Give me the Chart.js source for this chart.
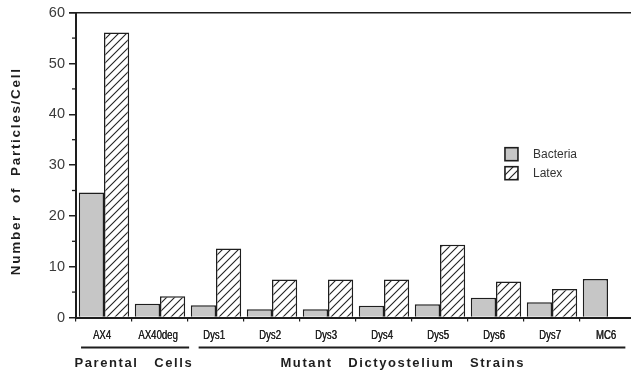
<!DOCTYPE html>
<html>
<head>
<meta charset="utf-8">
<script src="https://cdn.jsdelivr.net/npm/chart.js@4"></script>
<style>
  html, body { margin: 0; padding: 0; background: #fff; overflow: hidden; }
  #wrap { width: 641px; height: 375px; }
</style>
</head>
<body>
<div id="wrap"><canvas id="c" width="641" height="375"></canvas></div>
<script>
// Strain names along the x axis
const categories = ['AX4', 'AX40deg', 'Dys1', 'Dys2', 'Dys3', 'Dys4', 'Dys5', 'Dys6', 'Dys7', 'MC6'];
// Particles taken up per cell
const bacteria = [24.6, 2.7, 2.4, 1.6, 1.6, 2.3, 2.6, 3.9, 3.0, 7.6];
const latex    = [56.1, 4.2, 13.6, 7.5, 7.5, 7.5, 14.3, 7.1, 5.6, null];
// Y axis ticks
const yTicks = [0, 10, 20, 30, 40, 50, 60];
const yMinorTicks = [5, 15, 25, 35, 45, 55];
// Strain groups shown under the axis
const groupNames = ['Parental   Cells', 'Mutant   Dictyostelium   Strains'];
const groupFirst = [0, 2];
const groupLast  = [1, 9];

const INK = '#1e1e1e';

function hatchPattern() {
  const p = document.createElement('canvas');
  p.width = 8; p.height = 8;
  const g = p.getContext('2d');
  g.fillStyle = '#fff';
  g.fillRect(0, 0, 8, 8);
  g.strokeStyle = '#222';
  g.lineWidth = 1.1;
  g.beginPath();
  g.moveTo(-1, 9); g.lineTo(9, -1);
  g.moveTo(-1, 1); g.lineTo(1, -1);
  g.moveTo(7, 9); g.lineTo(9, 7);
  g.stroke();
  return g.createPattern(p, 'repeat');
}
const hatch = hatchPattern();

function spacedText(ctx, text, x, y, spacing) {
  // draws text centred on x with extra letter spacing
  const chars = Array.from(text);
  const widths = chars.map(ch => ctx.measureText(ch).width + spacing);
  const total = widths.reduce((a, b) => a + b, 0) - spacing;
  let cx = x - total / 2;
  ctx.textAlign = 'left';
  chars.forEach((ch, i) => { ctx.fillText(ch, cx, y); cx += widths[i]; });
}

const decorations = {
  id: 'decorations',
  afterDraw(chart) {
    const ctx = chart.ctx;
    const xs = chart.scales.x, ys = chart.scales.y;
    const area = chart.chartArea;
    const pitch = (xs.right - xs.left) / categories.length;
    ctx.save();
    ctx.strokeStyle = INK;
    ctx.fillStyle = INK;

    // frame line across the top at the axis maximum
    ctx.lineWidth = 1.5;
    const yTop = ys.getPixelForValue(60);
    ctx.beginPath(); ctx.moveTo(area.left - 7, yTop); ctx.lineTo(area.right + 10, yTop); ctx.stroke();

    // minor y ticks
    ctx.lineWidth = 1.3;
    yMinorTicks.forEach(v => {
      const py = ys.getPixelForValue(v);
      ctx.beginPath(); ctx.moveTo(area.left - 4, py); ctx.lineTo(area.left, py); ctx.stroke();
    });

    // condensed category labels under each pair of bars
    ctx.save();
    ctx.fillStyle = '#222';
    ctx.font = '12px "Liberation Sans", Arial, sans-serif';
    ctx.textAlign = 'center';
    ctx.textBaseline = 'middle';
    categories.forEach((name, i) => {
      const px = xs.getPixelForValue(i);
      ctx.save();
      ctx.translate(px - 2, area.bottom + 18);
      ctx.scale(0.8, 1);
      ctx.fillText(name, 0, 0);
      ctx.fillText(name, 0.35, 0);
      ctx.restore();
    });
    ctx.restore();

    // y axis title
    ctx.save();
    ctx.font = 'bold 13.5px "Liberation Sans", Arial, sans-serif';
    ctx.textBaseline = 'middle';
    ctx.translate(16, area.top + (area.bottom - area.top) * 0.523);
    ctx.rotate(-Math.PI / 2);
    spacedText(ctx, 'Number  of  Particles/Cell', 0, 0, 1.7);
    ctx.restore();

    // group underlines and names
    const lineY = area.bottom + 30;
    const textY = area.bottom + 46;
    ctx.lineWidth = 2;
    ctx.font = 'bold 13px "Liberation Sans", Arial, sans-serif';
    ctx.textBaseline = 'middle';
    groupNames.forEach((name, i) => {
      const left = xs.getPixelForValue(groupFirst[i]) - pitch * (i === 0 ? 0.41 : 0.31);
      const right = xs.getPixelForValue(groupLast[i]) + pitch * (i === 0 ? 0.52 : 0.31);
      ctx.beginPath(); ctx.moveTo(left, lineY); ctx.lineTo(right, lineY); ctx.stroke();
      const mid = i === 0 ? (left + right) / 2 - 2 : (left + right) / 2 - 10;
      spacedText(ctx, name, mid, textY, 1.6);
    });

    // legend
    const lx = area.left + pitch * 7.66;
    const ly = area.top + 135;
    ctx.font = '12px "Liberation Sans", Arial, sans-serif';
    ctx.textBaseline = 'middle';
    ctx.textAlign = 'left';
    chart.data.datasets.forEach((ds, i) => {
      const by = ly + i * 19;
      ctx.fillStyle = ds.backgroundColor;
      ctx.fillRect(lx, by, 13, 13);
      ctx.lineWidth = 1.6;
      ctx.strokeStyle = INK;
      ctx.strokeRect(lx, by, 13, 13);
      ctx.fillStyle = '#333';
      ctx.fillText(ds.label, lx + 28, by + 7);
    });
    ctx.restore();
  }
};

new Chart(document.getElementById('c'), {
  type: 'bar',
  data: {
    labels: categories,
    datasets: [
      { label: 'Bacteria', data: bacteria, backgroundColor: '#c6c6c6', borderColor: INK, borderWidth: 1.5 },
      { label: 'Latex', data: latex, backgroundColor: hatch, borderColor: INK, borderWidth: 1.5 }
    ]
  },
  options: {
    responsive: false,
    animation: false,
    events: [],
    layout: { padding: { top: 11, right: 5, bottom: 0, left: 0 } },
    plugins: { legend: { display: false }, tooltip: { enabled: false } },
    datasets: { bar: { categoryPercentage: 0.9, barPercentage: 1.0, borderSkipped: 'bottom' } },
    scales: {
      x: {
        offset: true,
        grid: { display: true, drawOnChartArea: false, tickLength: 4, color: INK, lineWidth: 1.2 },
        border: { display: true, color: INK, width: 2 },
        ticks: { display: false },
        afterFit(scale) { scale.height = 57.5; }
      },
      y: {
        min: 0,
        max: 60,
        afterBuildTicks(scale) { scale.ticks = yTicks.map(v => ({ value: v })); },
        grid: { display: true, drawOnChartArea: false, tickLength: 7, color: INK, lineWidth: 1.5 },
        border: { display: true, color: INK, width: 2 },
        ticks: {
          color: '#3a3a3a',
          padding: 4,
          font: { family: '"Liberation Sans", Arial, sans-serif', size: 14.5 }
        },
        afterFit(scale) { scale.width = 76; }
      }
    }
  },
  plugins: [decorations]
});
</script>
</body>
</html>
